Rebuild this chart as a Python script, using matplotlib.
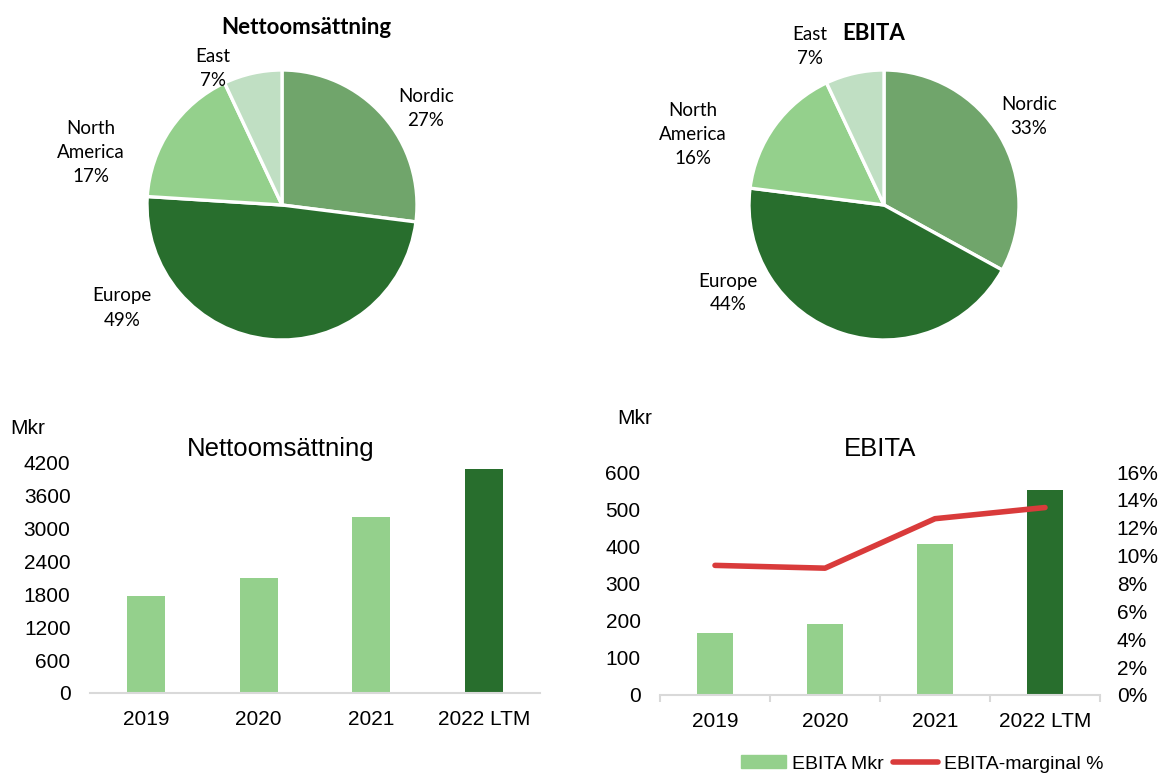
import matplotlib.pyplot as plt
from matplotlib.patches import Patch
from matplotlib.lines import Line2D

# pie data (share in %)
regions = ["Nordic", "Europe", "North\nAmerica", "East"]
sales_share = [27, 49, 17, 7]
ebita_share = [33, 44, 16, 7]

# bar data
years = ["2019", "2020", "2021", "2022 LTM"]
sales = [1770, 2105, 3210, 4095]
ebita = [166, 191, 406, 551]
ebita_margin = [9.3, 9.1, 12.65, 13.45]

pie_colors = ["#70a56b", "#286e2d", "#94d08c", "#c0dfc3"]
light = "#94d08c"
dark = "#286e2d"
red = "#d93b3b"

W, H = 1160, 778
fig = plt.figure(figsize=(W / 100, H / 100), dpi=100)


def px_axes(x0, y0, x1, y1):
    return fig.add_axes([x0 / W, 1 - y1 / H, (x1 - x0) / W, (y1 - y0) / H])


def ftext(x, y, s, **kw):
    fig.text(x / W, 1 - y / H, s, **kw)


# ---- pies ----
def pie(cx, cy, r, shares, title, title_xy, label_xy):
    lim = 1.1
    ax = px_axes(cx - r * lim, cy - r * lim, cx + r * lim, cy + r * lim)
    ax.pie(shares, colors=pie_colors, startangle=90, counterclock=False,
           radius=1, wedgeprops=dict(edgecolor="white", linewidth=2.4))
    ax.set_xlim(-lim, lim)
    ax.set_ylim(-lim, lim)
    ax.set_aspect("equal")
    ax.axis("off")
    ftext(*title_xy, title, family="Lato", weight="bold", fontsize=16,
          ha="center", va="center")
    for name, share, (x, y) in zip(regions, shares, label_xy):
        ftext(x, y, f"{name}\n{share}%", family="Lato", fontsize=13.5,
              ha="center", va="center", linespacing=1.5)


pie(282, 205, 135, sales_share, "Nettoomsättning", (306, 27),
    [(426, 109), (122, 308), (91, 152), (213, 69)])
pie(884, 205, 135, ebita_share, "EBITA", (874, 33),
    [(1029, 117), (728, 293), (693, 134), (810, 46)])

# ---- bar charts ----
plt.rcParams["font.family"] = ["Liberation Sans", "DejaVu Sans"]
bar_colors = [light, light, light, dark]


def style_bar_axes(ax):
    for s in ["top", "left", "right"]:
        ax.spines[s].set_visible(False)
    ax.spines["bottom"].set_color("#d9d9d9")
    ax.spines["bottom"].set_linewidth(1.5)
    ax.tick_params(axis="x", length=0, pad=12, labelsize=15)
    ax.tick_params(axis="y", length=0, pad=14, labelsize=15)
    ax.set_xlim(-0.5, 3.5)
    ax.set_xticks(range(len(years)))
    ax.set_xticklabels(years)


ax1 = px_axes(90, 463, 540, 693)
ax1.bar(range(len(years)), sales, width=0.34, color=bar_colors)
ax1.set_ylim(0, 4200)
ax1.set_yticks(range(0, 4201, 600))
style_bar_axes(ax1)
ftext(281, 449, "Nettoomsättning", fontsize=18.5, ha="center", va="center")
ftext(10, 428, "Mkr", fontsize=15, ha="left", va="center")

ax2 = px_axes(660, 472, 1100, 695)
ax2.bar(range(len(years)), ebita, width=0.33, color=bar_colors)
ax2.set_ylim(0, 600)
ax2.set_yticks(range(0, 601, 100))
style_bar_axes(ax2)
ax2.set_xticks([-0.5, 0.5, 1.5, 2.5, 3.5], minor=True)
ax2.tick_params(axis="x", which="minor", length=5, color="#d9d9d9", width=1.5)

ax3 = ax2.twinx()
ax3.plot(range(len(years)), ebita_margin, color=red, linewidth=4,
         solid_capstyle="round", solid_joinstyle="round")
ax3.set_ylim(0, 16)
ax3.set_yticks(range(0, 17, 2))
ax3.set_yticklabels([f"{v}%" for v in range(0, 17, 2)])
for s in ["top", "left", "right", "bottom"]:
    ax3.spines[s].set_visible(False)
ax3.tick_params(axis="y", length=0, pad=12, labelsize=15)

ftext(880, 449, "EBITA", fontsize=18.5, ha="center", va="center")
ftext(617, 418, "Mkr", fontsize=15, ha="left", va="center")

handles = [Patch(color=light, label="EBITA Mkr"),
           Line2D([], [], color=red, linewidth=4, label="EBITA-marginal %",
                  solid_capstyle="round")]
fig.legend(handles=handles, loc="center", bbox_to_anchor=(922 / W, 1 - 764 / H),
           ncol=2, frameon=False, fontsize=14, handlelength=2.3,
           handletextpad=0.3, columnspacing=0.5, handleheight=0.6,
           borderpad=0.2)

fig.savefig("out.png", dpi=100)
